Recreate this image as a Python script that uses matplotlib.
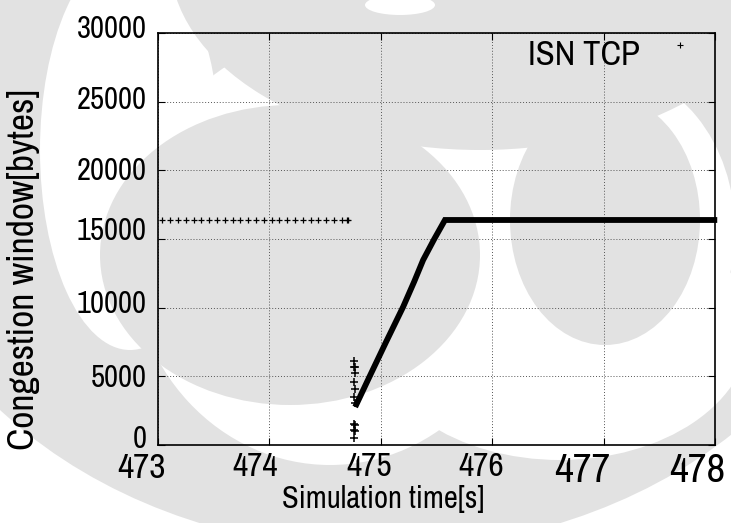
import matplotlib
matplotlib.use("Agg")
import matplotlib.pyplot as plt
from matplotlib import font_manager
from matplotlib.patches import Ellipse
from matplotlib.transforms import ScaledTranslation

# --- data -------------------------------------------------------------
# cwnd before the loss event (sparse samples)
pre_time = [473.04, 473.11, 473.18, 473.25, 473.32, 473.39, 473.46, 473.53,
            473.60, 473.67, 473.74, 473.81, 473.88, 473.95, 474.02, 474.09,
            474.16, 474.23, 474.30, 474.37, 474.44, 474.51, 474.58, 474.65,
            474.70, 474.71]
pre_cwnd = [16384] * len(pre_time)

# cwnd samples right after the loss event
drop_time = [474.76, 474.765, 474.76, 474.765, 474.76, 474.765, 474.76,
             474.76, 474.765, 474.76, 474.765, 474.76, 474.77]
drop_cwnd = [6140, 5700, 5650, 5220, 4610, 4060, 3520,
             1510, 1450, 1090, 1050, 530, 3080]

# recovery (dense samples drawn as a thick trace)
rec_time = [474.77, 474.90, 475.05, 475.20, 475.30, 475.38, 475.48, 475.576, 478.02]
rec_cwnd = [2770, 5000, 7550, 10050, 11900, 13470, 15000, 16384, 16384]

x_ticks = [473, 474, 475, 476, 477, 478]
y_ticks = [0, 5000, 10000, 15000, 20000, 25000, 30000]

# per-label font size and pixel nudge of the tick labels
x_tick_sizes = [25.5, 24, 24, 24, 29.5, 29.5]
x_tick_dx = [-17, -14, -12, -11, -21, -18]
y_tick_dy = [-9, -1, -6, -10, -2, -4, -7]

# --- font: a narrow sans if one is available ---------------------------
available = {f.name for f in font_manager.fontManager.ttflist}
narrow = None
for cand in ["Nimbus Sans Narrow", "Liberation Sans Narrow", "Arial Narrow",
             "Archivo Narrow", "PT Sans Narrow", "Roboto Condensed",
             "Pragati Narrow", "Fira Sans Condensed", "IBM Plex Sans Condensed",
             "Encode Sans Condensed", "Asap Condensed", "Open Sans Condensed",
             "Barlow Semi Condensed", "Sofia Sans Condensed"]:
    if cand in available:
        narrow = cand
        break
k = 1.0 if narrow else 0.82
plt.rcParams["font.family"] = ([narrow] if narrow else []) + ["Liberation Sans", "DejaVu Sans"]

W, H = 731, 523
fig = plt.figure(figsize=(W / 100, H / 100), dpi=100)
fig.patch.set_facecolor("white")

# --- faint background emblem, in pixel coordinates (origin top-left) ----
grey = "#e2e2e2"


def blob(cx, cy, w, h, color=grey):
    e = Ellipse((cx / W, 1 - cy / H), w / W, h / H, facecolor=color,
                edgecolor="none", transform=fig.transFigure, zorder=0)
    fig.patches.append(e)


blob(380, 150, 1000, 800)                 # outer body
blob(330, 250, 400, 430, "white")         # inner clearing
blob(130, 150, 180, 400, "white")         # upper-left clearing
blob(605, 230, 260, 320, "white")         # clearing round the right disc
blob(560, 330, 380, 260, "white")         # lower-right clearing
blob(480, -40, 620, 380)                  # top cap
blob(400, 5, 70, 20, "white")             # notch in the cap
blob(290, 255, 380, 300)                  # left disc
blob(605, 220, 190, 250)                  # right disc

# --- axes -------------------------------------------------------------
ax = fig.add_axes([158 / W, 1 - 445 / H, (715 - 158) / W, (445 - 33) / H])
ax.set_facecolor("none")
ax.set_zorder(2)

ax.plot(pre_time, pre_cwnd, linestyle="none", marker="+", color="black",
        markersize=5, markeredgewidth=0.9)
ax.plot(drop_time, drop_cwnd, linestyle="none", marker="+", color="black",
        markersize=6, markeredgewidth=1.1)
ax.plot(rec_time, rec_cwnd, color="black", linewidth=4.2,
        solid_joinstyle="miter", solid_capstyle="butt", clip_on=False)

ax.set_xlim(473, 478)
ax.set_ylim(0, 30000)
ax.set_xticks(x_ticks)
ax.set_yticks(y_ticks)
ax.set_xticklabels([str(t) for t in x_ticks])
ax.set_yticklabels([str(t) for t in y_ticks])

ax.tick_params(axis="both", direction="in", length=5, width=0.8,
               top=True, right=True, colors="black")
ax.tick_params(axis="x", pad=5)
ax.tick_params(axis="y", pad=8)
ax.grid(True, linestyle=(0, (1, 2)), linewidth=0.7, color="#555555")
for sp in ax.spines.values():
    sp.set_linewidth(1.2)

for lab, s, dx in zip(ax.get_xticklabels(), x_tick_sizes, x_tick_dx):
    lab.set_fontsize(s * k)
    lab.set_transform(lab.get_transform()
                      + ScaledTranslation(dx / 100, 0, fig.dpi_scale_trans))
for lab, dy in zip(ax.get_yticklabels(), y_tick_dy):
    lab.set_fontsize(22 * k)
    lab.set_transform(lab.get_transform()
                      + ScaledTranslation(0, -dy / 100, fig.dpi_scale_trans))

ax.set_xlabel("Simulation time[s]", fontsize=22 * k)
ax.xaxis.set_label_coords((383 - 158) / 557, (445 - 499) / 412)
ax.xaxis.label.set_va("center")
ax.set_ylabel("Congestion window[bytes]", fontsize=27 * k)
ax.yaxis.set_label_coords((24 - 158) / 557, (445 - 270) / 412)
ax.yaxis.label.set_va("center")

# legend entry
ax.text((640 - 158) / 557, (445 - 65) / 412, "ISN TCP", transform=ax.transAxes,
        ha="right", va="baseline", fontsize=25 * k)
ax.plot([(680 - 158) / 557], [(445 - 45) / 412], transform=ax.transAxes,
        marker="+", color="black", markersize=4, markeredgewidth=0.8,
        linestyle="none")

fig.savefig("out.png", dpi=100, facecolor="white")
